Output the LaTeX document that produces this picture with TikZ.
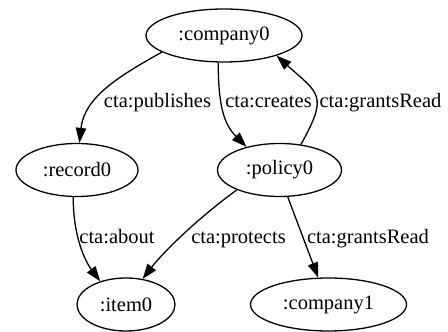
\documentclass[tikz,border=0pt]{standalone}
\usepackage{fontspec}
\setmainfont{Liberation Serif}
\usetikzlibrary{shapes.geometric,arrows.meta}
\begin{document}
\begin{tikzpicture}[x=1pt,y=1pt,
  nd/.style={ellipse,draw,line width=1.3pt,inner sep=0pt,minimum height=53pt,font=\fontsize{20.5}{24}\selectfont},
  ed/.style={line width=1.3pt,-{Triangle[length=15pt,width=10.5pt]}},
  lb/.style={font=\fontsize{20.5}{24}\selectfont,inner sep=0pt,anchor=base}]
\useasboundingbox (0,0) rectangle (448,332);
\node[nd,minimum width=156pt] (company0) at (224,296.5) {:company0};
\node[nd,minimum width=122pt] (record0) at (77,162) {:record0};
\node[nd,minimum width=124pt] (policy0) at (279.5,162) {:policy0};
\node[nd,minimum width=98pt] (item0) at (126,27.5) {:item0};
\node[nd,minimum width=156pt] (company1) at (328.5,27.5) {:company1};
\draw[ed] (company0.195) .. controls +(-45,-25) and +(5,45) .. (record0.85);
\draw[ed] (company0.258) .. controls +(0,-45) and +(-22,22) .. (policy0.145);
\draw[ed] (policy0.50) .. controls +(28,50) and +(42,-38) .. (company0.339);
\draw[ed] (record0.262) .. controls +(0,-40) and +(-15,20) .. (item0.138);
\draw[ed] (policy0.205) .. controls +(-40,-29) and +(20,26) .. (item0.57);
\draw[ed] (policy0.287) -- (company1.111);
\node[lb] (l1) at (157.5,224.7) {cta:publishes};
\node[lb] (l2) at (268.5,224.7) {cta:creates};
\node[lb] (l3) at (380.5,224.7) {cta:grantsRead};
\node[lb] (l4) at (117,88.7) {cta:about};
\node[lb] (l5) at (238.5,88.7) {cta:protects};
\node[lb] (l6) at (368,88.7) {cta:grantsRead};
\end{tikzpicture}
\end{document}
